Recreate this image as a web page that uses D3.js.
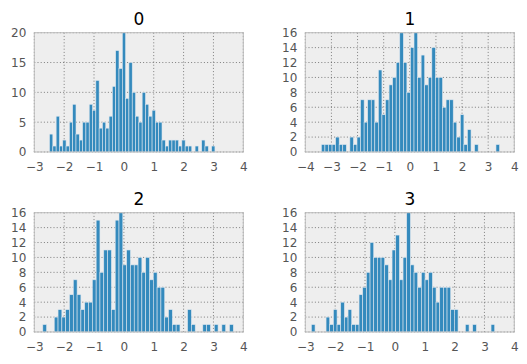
<!DOCTYPE html>
<html><head><meta charset="utf-8">
<script src="https://cdn.jsdelivr.net/npm/d3@7"></script>
<style>body{margin:0;background:#fff}svg{display:block;font-family:"DejaVu Sans",sans-serif}</style>
</head><body>
<svg id="c" width="527" height="364"></svg>
<script>
// ---- data (histogram counts, 50 bins each) ----
const titles = ["0", "1", "2", "3"];
const counts0 = [3,1,6,1,2,1,5,8,3,2, 5,5,8,7,12,4,5,4,6,11, 17,14,20,9,15,10,6,5,10,8, 6,7,5,5,2,1,2,2,2,1, 2,1,1,0,1,0,2,1,0,1];
const counts1 = [1,1,1,1,2,1,1,0,2,1, 2,7,4,7,7,4,11,5,7,9, 10,12,16,12,8,14,16,10,13,9, 10,14,10,10,6,7,7,4,2,5, 1,3,0,1,0,0,0,0,0,1];
const counts2 = [1,0,0,2,3,2,3,5,7,5, 3,4,4,7,15,8,11,11,3,15, 16,9,11,9,9,10,8,10,7,8, 6,6,2,3,1,1,0,0,3,1, 0,0,1,1,0,1,0,1,0,1];
const counts3 = [1,0,0,0,2,1,3,1,4,2, 3,1,1,5,6,8,12,10,10,10, 9,7,11,13,7,10,16,9,8,6, 8,7,8,6,4,6,6,6,3,3, 0,0,1,0,1,0,0,0,0,1];
const binRange0 = [-2.49, 3.05];
const binRange1 = [-3.385, 3.435];
const binRange2 = [-2.715, 3.665];
const binRange3 = [-2.796, 3.344];
const xDomain0 = [-3, 4], xDomain1 = [-4, 4], xDomain2 = [-3, 4], xDomain3 = [-3, 4];
const yTicks0 = [0,5,10,15,20];
const yTicks1 = [0,2,4,6,8,10,12,14,16];
const yTicks2 = yTicks1, yTicks3 = yTicks1;

const panels = [
  {title: titles[0], counts: counts0, range: binRange0, xd: xDomain0, yt: yTicks0, x0: 34.3, x1: 243.3, y0: 32.7, y1: 152},
  {title: titles[1], counts: counts1, range: binRange1, xd: xDomain1, yt: yTicks1, x0: 305.3, x1: 514.3, y0: 32.7, y1: 152},
  {title: titles[2], counts: counts2, range: binRange2, xd: xDomain2, yt: yTicks2, x0: 34.3, x1: 243.3, y0: 212.7, y1: 332},
  {title: titles[3], counts: counts3, range: binRange3, xd: xDomain3, yt: yTicks3, x0: 305.3, x1: 514.3, y0: 212.7, y1: 332}
];

const svg = d3.select("#c");
panels.forEach(p => {
  const w = p.x1 - p.x0, h = p.y1 - p.y0;
  const g = svg.append("g").attr("transform", `translate(${p.x0},${p.y0})`);
  const x = d3.scaleLinear().domain(p.xd).range([0, w]);
  const y = d3.scaleLinear().domain([0, d3.max(p.yt)]).range([h, 0]);
  const xt = d3.range(p.xd[0], p.xd[1] + 1);
  g.append("rect").attr("width", w).attr("height", h).attr("fill", "#eeeeee");
  // grid
  g.append("g").selectAll("line").data(xt).join("line")
    .attr("x1", d => x(d)).attr("x2", d => x(d)).attr("y1", 0).attr("y2", h)
    .attr("stroke", "#333").attr("stroke-width", 0.6).attr("stroke-dasharray", "1,2.2");
  g.append("g").selectAll("line").data(p.yt).join("line")
    .attr("y1", d => y(d)).attr("y2", d => y(d)).attr("x1", 0).attr("x2", w)
    .attr("stroke", "#333").attr("stroke-width", 0.6).attr("stroke-dasharray", "1,2.2");
  // bars
  const bw = (p.range[1] - p.range[0]) / p.counts.length;
  g.append("g").selectAll("rect").data(p.counts).join("rect")
    .attr("x", (d, i) => x(p.range[0] + i * bw))
    .attr("width", (d, i) => x(p.range[0] + (i + 1) * bw) - x(p.range[0] + i * bw))
    .attr("y", d => y(d)).attr("height", d => h - y(d))
    .attr("fill", "#348abd").attr("stroke", d => d > 0 ? "#dde6ee" : "none").attr("stroke-width", 0.6);
  // frame
  g.append("rect").attr("width", w).attr("height", h).attr("fill", "none")
    .attr("stroke", "#bcbcbc").attr("stroke-width", 1);
  // axes
  const xa = g.append("g").attr("transform", `translate(0,${h})`)
    .call(d3.axisBottom(x).tickValues(xt).tickSize(0).tickPadding(0).tickFormat(d3.format("")));
  xa.select(".domain").remove();
  xa.selectAll("text").attr("dy", null).attr("y", 18.5).attr("fill", "#555").attr("font-size", 12).attr("font-family", "DejaVu Sans");
  const ya = g.append("g")
    .call(d3.axisLeft(y).tickValues(p.yt).tickSize(0).tickPadding(8).tickFormat(d3.format("")));
  ya.select(".domain").remove();
  ya.selectAll("text").attr("fill", "#555").attr("font-size", 12).attr("font-family", "DejaVu Sans");
  g.append("text").attr("x", w / 2).attr("y", -7.5).attr("text-anchor", "middle")
    .attr("font-size", 17).attr("fill", "#000").text(p.title);
});
</script>
</body></html>
